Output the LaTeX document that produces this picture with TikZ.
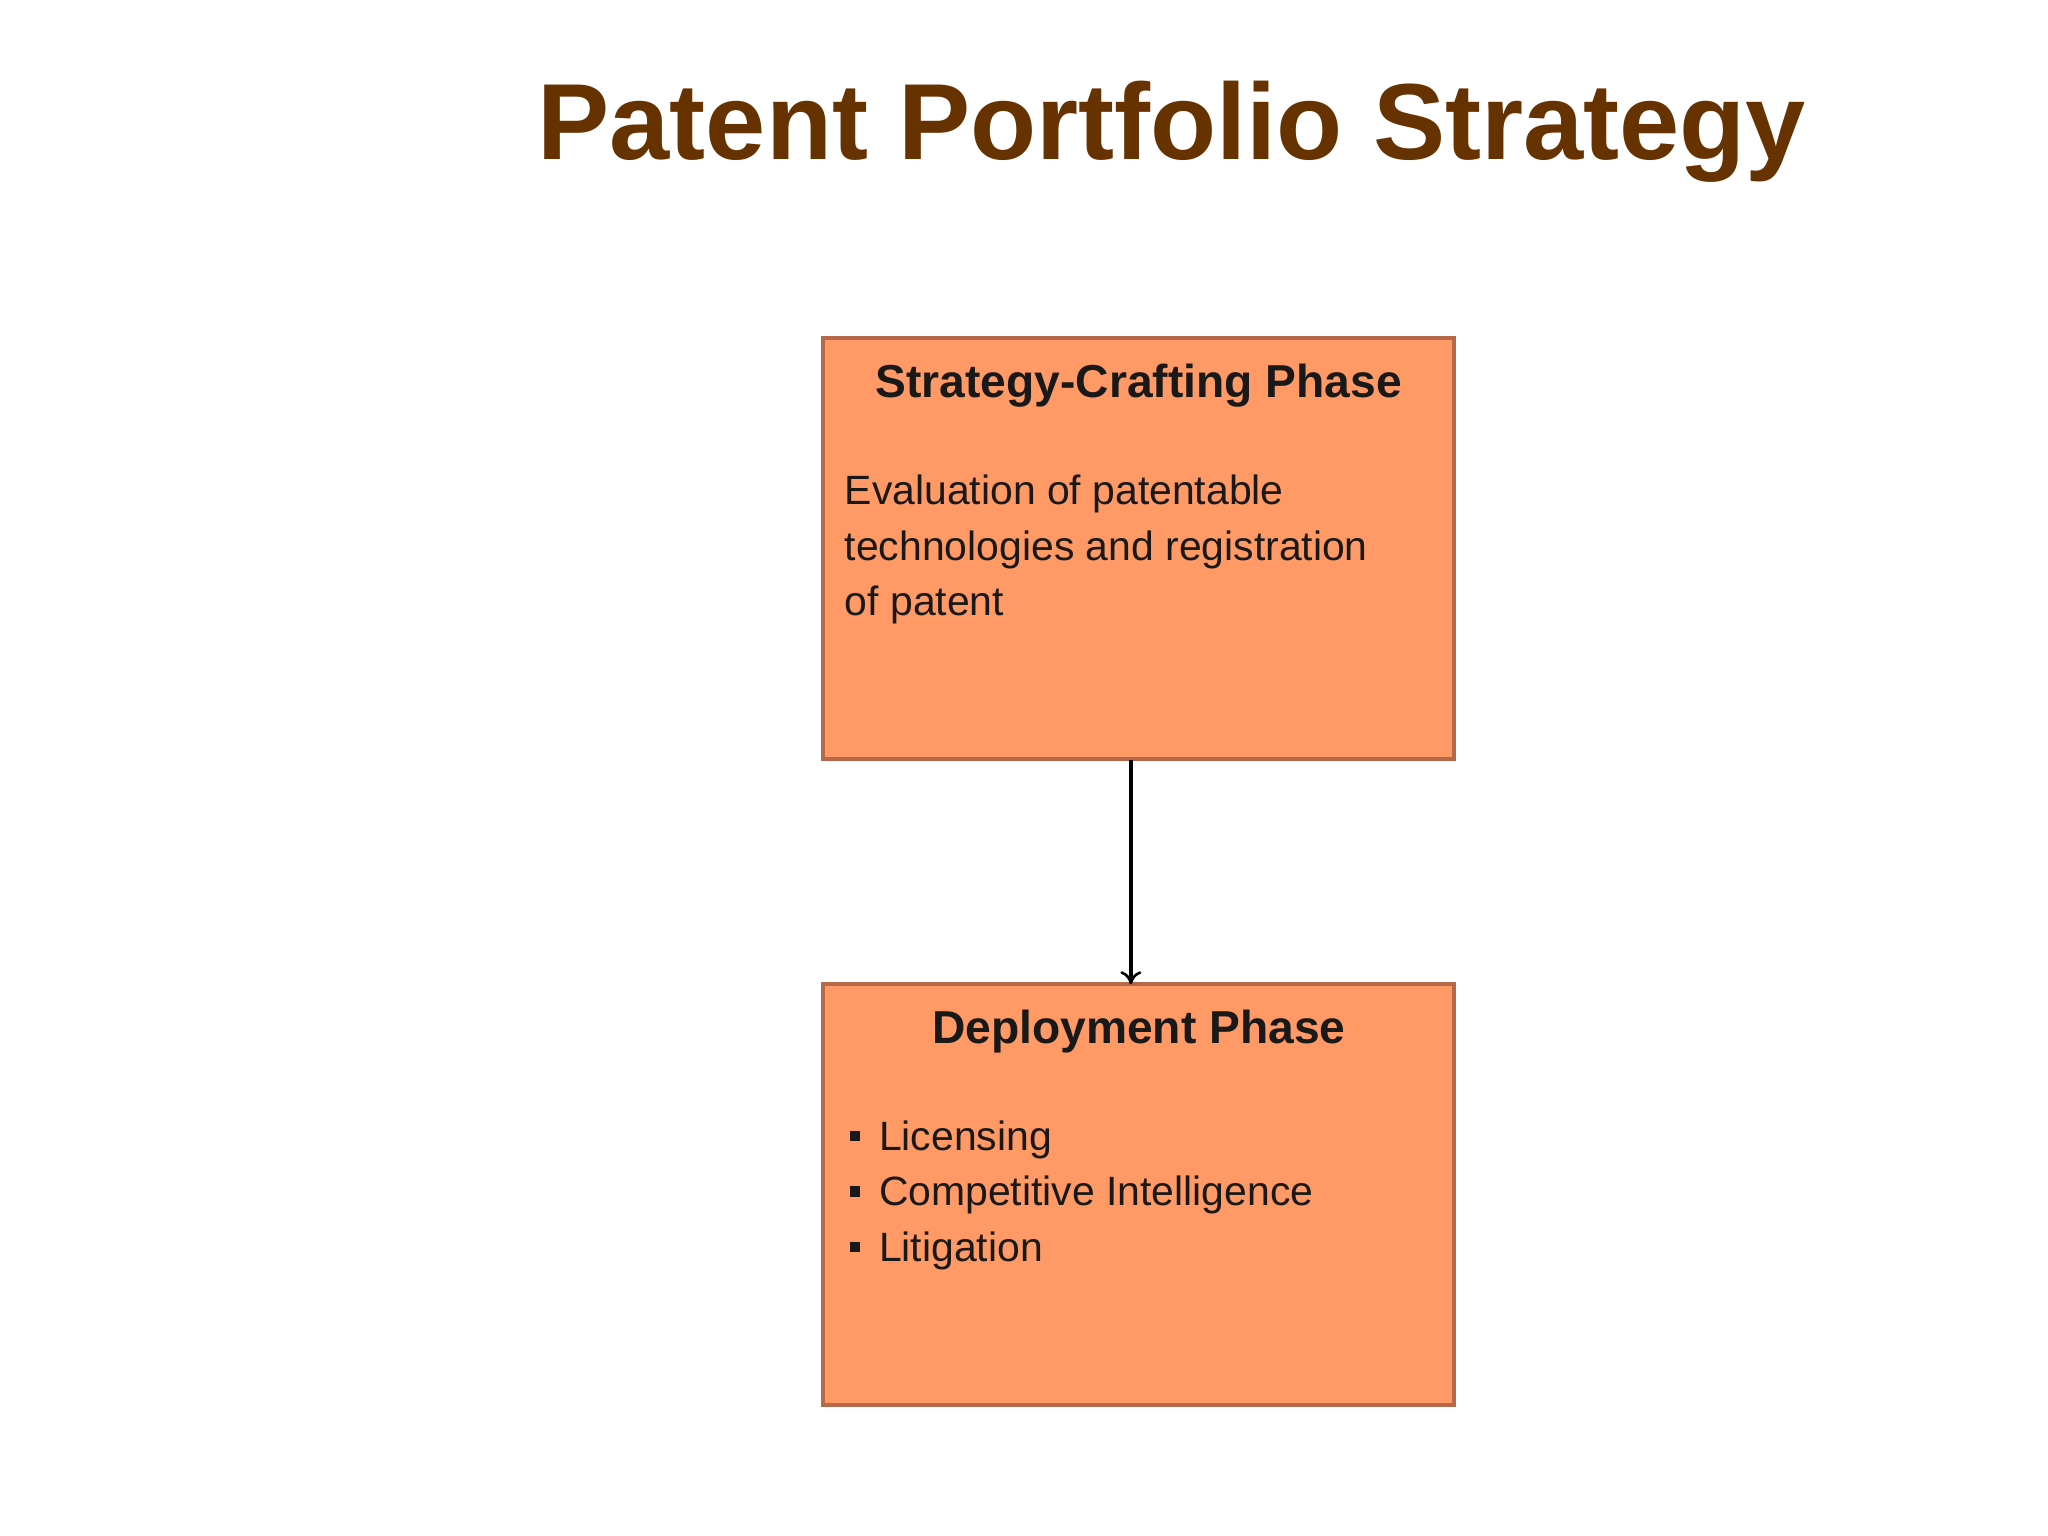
\documentclass[tikz,border=0pt]{standalone}
\usepackage{fontspec}
\setmainfont{Liberation Sans}
\usetikzlibrary{arrows.meta}
\definecolor{boxfill}{HTML}{FF9966}
\definecolor{boxline}{HTML}{B5694A}
\definecolor{titlec}{HTML}{663300}
\tikzset{
 phase/.style={draw=boxline,fill=boxfill,line width=3pt,minimum width=478pt,minimum height=319pt,inner sep=0pt},
 ttl/.style={font=\bfseries\fontsize{35}{42}\selectfont,text=black!90,anchor=center},
 body/.style={font=\fontsize{31}{42}\selectfont,text=black!90,align=left,anchor=north west},
}
\begin{document}
\begin{tikzpicture}[x=1pt,y=-1pt]
\useasboundingbox (0,0) rectangle (1552,1164);
\node[font=\bfseries\fontsize{82}{90}\selectfont,text=titlec] (title) at (888,100) {Patent Portfolio Strategy};
\node[phase] (b1) at (863,416) {};
\node[phase] (b2) at (863,905.5) {};
\node[ttl] (t1) at (863,292) {Strategy-Crafting Phase};
\node[body,inner sep=0pt] (x1) at (640,360) {Evaluation of patentable\\technologies and registration\\of patent};
\node[ttl] (t2) at (863,782) {Deployment Phase};
\node[body,inner sep=0pt] (x2) at (666,849) {Licensing\\Competitive Intelligence\\Litigation};
\foreach \yy/\n in {862/a,904/b,946/c}
  \fill[black!90] (644,\yy-5) rectangle (652,\yy+3);
\draw[line width=3pt,-{To[length=10pt,width=16pt,line width=2pt]}] (857,576) -- (857,746);
\end{tikzpicture}
\end{document}
